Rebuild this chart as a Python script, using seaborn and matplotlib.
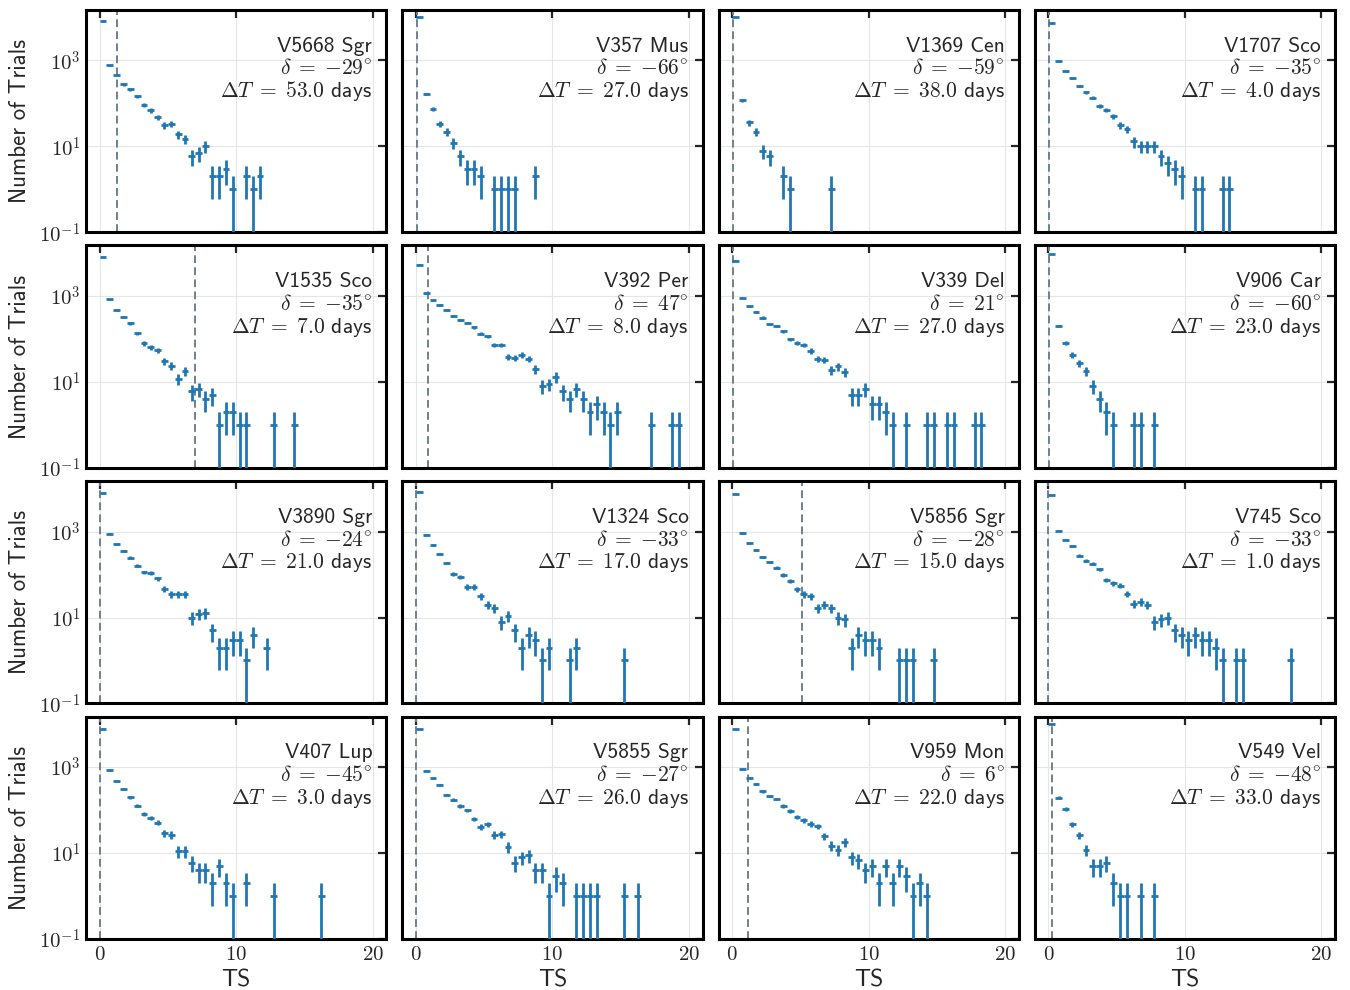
import numpy as np
import pandas as pd
import matplotlib
matplotlib.use("Agg")
import matplotlib.pyplot as plt
from matplotlib.ticker import FuncFormatter, NullLocator, FixedLocator
import seaborn as sns

# ---------------- data ----------------
names = ["V5668 Sgr", "V357 Mus", "V1369 Cen", "V1707 Sco",
         "V1535 Sco", "V392 Per", "V339 Del", "V906 Car",
         "V3890 Sgr", "V1324 Sco", "V5856 Sgr", "V745 Sco",
         "V407 Lup", "V5855 Sgr", "V959 Mon", "V549 Vel"]
declinations = [-29, -66, -59, -35, -35, 47, 21, -60,
                -24, -33, -28, -33, -45, -27, 6, -48]
delta_t_days = [53.0, 27.0, 38.0, 4.0, 7.0, 8.0, 27.0, 23.0,
                21.0, 17.0, 15.0, 1.0, 3.0, 26.0, 22.0, 33.0]
ts_observed = [1.3, 0.05, 0.05, 0.05, 6.95, 0.9, 0.05, 0.05,
               0.0, 0.0, 5.15, 0.0, 0.0, 0.0, 1.15, 0.25]

bin_width = 0.5  # TS histogram bins starting at 0

counts_V5668_Sgr = [8500, 765, 470, 277, 213, 146, 91, 69, 48, 31, 34, 19, 15, 6, 7, 10,
                    2, 2, 3, 1, 0, 2, 1, 2]
counts_V357_Mus = [10300, 166, 76, 34, 22, 12, 6, 3, 3, 2, 0, 1, 1, 1, 1, 0, 0, 2]
counts_V1369_Cen = [10300, 117, 36, 22, 8, 6, 0, 2, 1, 0, 0, 0, 0, 0, 1]
counts_V1707_Sco = [7600, 950, 555, 395, 258, 181, 135, 87, 71, 51, 31, 25, 13, 10, 10, 10,
                    6, 4, 3, 2, 0, 1, 1, 0, 0, 1, 1]
counts_V1535_Sco = [8100, 835, 465, 318, 230, 135, 79, 64, 54, 31, 24, 12, 18, 6, 7, 4,
                    5, 1, 2, 2, 1, 1, 0, 0, 0, 1, 0, 0, 1]
counts_V392_Per = [5400, 1150, 795, 610, 466, 340, 275, 238, 189, 133, 115, 73, 73, 39, 36, 43,
                   35, 20, 8, 9, 13, 6, 4, 7, 4, 2, 3, 2, 1, 2, 0, 0, 0, 0, 1, 0, 0, 1, 1]
counts_V339_Del = [6650, 915, 577, 427, 316, 222, 200, 150, 98, 82, 74, 53, 35, 33, 19, 23,
                   17, 5, 5, 7, 3, 3, 2, 1, 0, 1, 0, 0, 1, 1, 0, 1, 1, 0, 0, 1, 1]
counts_V906_Car = [9500, 200, 82, 43, 28, 18, 8, 4, 2, 1, 0, 0, 1, 1, 0, 1]
counts_V3890_Sgr = [7950, 885, 517, 355, 249, 159, 113, 109, 81, 47, 35, 35, 35, 10, 12, 13,
                    5, 2, 2, 3, 3, 1, 4, 0, 2]
counts_V1324_Sco = [8500, 840, 490, 302, 187, 104, 90, 52, 52, 31, 20, 17, 8, 11, 5, 2,
                    4, 3, 1, 2, 0, 0, 1, 2, 0, 0, 0, 0, 0, 0, 1]
counts_V5856_Sgr = [7550, 930, 545, 382, 258, 197, 143, 96, 71, 45, 35, 31, 17, 20, 17, 10,
                    9, 2, 4, 3, 3, 2, 0, 0, 1, 1, 1, 0, 0, 1]
counts_V745_Sco = [7100, 1050, 650, 464, 277, 212, 178, 131, 75, 63, 55, 36, 21, 23, 20, 8,
                   9, 10, 5, 4, 3, 4, 3, 3, 2, 1, 0, 1, 1, 0, 0, 0, 0, 0, 0, 1]
counts_V407_Lup = [7900, 840, 466, 310, 198, 127, 80, 66, 51, 29, 27, 11, 11, 6, 4, 4,
                   2, 5, 2, 1, 0, 2, 0, 0, 0, 1, 0, 0, 0, 0, 0, 0, 1]
counts_V5855_Sgr = [7800, 820, 545, 388, 228, 174, 126, 98, 63, 40, 47, 27, 28, 14, 6, 8,
                    9, 4, 4, 1, 3, 2, 0, 1, 1, 1, 1, 0, 0, 0, 1, 0, 1]
counts_V959_Mon = [7550, 900, 555, 410, 271, 215, 182, 124, 96, 69, 59, 48, 42, 25, 15, 12,
                   18, 8, 7, 4, 5, 2, 5, 2, 5, 3, 1, 2, 1]
counts_V549_Vel = [10000, 196, 105, 47, 26, 12, 5, 5, 6, 2, 1, 1, 0, 1, 0, 1]

all_counts = [counts_V5668_Sgr, counts_V357_Mus, counts_V1369_Cen, counts_V1707_Sco,
              counts_V1535_Sco, counts_V392_Per, counts_V339_Del, counts_V906_Car,
              counts_V3890_Sgr, counts_V1324_Sco, counts_V5856_Sgr, counts_V745_Sco,
              counts_V407_Lup, counts_V5855_Sgr, counts_V959_Mon, counts_V549_Vel]

# ---------------- style ----------------
sns.set_theme(style="white")
plt.rcParams["font.family"] = ["cmss10", "DejaVu Sans"]
plt.rcParams["mathtext.fontset"] = "cm"
plt.rcParams["axes.unicode_minus"] = False
plt.rcParams["axes.formatter.use_mathtext"] = True

blue = "#1f77b4"
txt_size = 15.5

fig, axes = plt.subplots(4, 4, figsize=(13.5, 9.9), dpi=100, sharex=True, sharey=True)
fig.subplots_adjust(left=0.0637, right=0.989, top=0.990, bottom=0.0515,
                    wspace=0.053, hspace=0.059)

for i, ax in enumerate(axes.flat):
    c = np.asarray(all_counts[i], dtype=float)
    centers = np.arange(len(c)) * bin_width + bin_width / 2
    df = pd.DataFrame({"TS": centers, "N": c})
    df = df[df["N"] > 0]
    ax.errorbar(df["TS"], df["N"], xerr=bin_width / 2, yerr=np.sqrt(df["N"]),
                fmt="none", ecolor=blue, elinewidth=2.0, capsize=0, zorder=3)
    ax.axvline(ts_observed[i], color="#6f808e", ls=(0, (4, 2.2)), lw=1.4, zorder=2)

    ax.set_yscale("log")
    ax.set_xlim(-1, 21)
    ax.set_ylim(0.1, 1.5e4)
    ax.yaxis.set_major_locator(FixedLocator([0.1, 10, 1000]))
    ax.yaxis.set_minor_locator(NullLocator())
    ax.yaxis.set_major_formatter(FuncFormatter(lambda v, p: r"$10^{%d}$" % round(np.log10(v))))
    ax.xaxis.set_major_locator(FixedLocator([0, 10, 20]))
    ax.xaxis.set_major_formatter(FuncFormatter(lambda v, p: r"$%d$" % round(v)))
    ax.grid(True, color="0.9", lw=0.8)
    ax.set_axisbelow(True)
    ax.tick_params(direction="in", top=True, right=True, length=6, width=1.6,
                   labelsize=15, pad=4)
    for s in ax.spines.values():
        s.set_linewidth(2.2)
        s.set_color("black")

    dec = declinations[i]
    sign = "{-}" if dec < 0 else ""
    dec_str = r"$\delta\;=\;%s%d^{\circ}$" % (sign, abs(dec))
    dt_str = r"$\Delta T\;=\;%.1f$ days" % delta_t_days[i]
    ax.text(0.953, 0.812, names[i], transform=ax.transAxes, ha="right", va="baseline", fontsize=txt_size)
    ax.text(0.953, 0.710, dec_str, transform=ax.transAxes, ha="right", va="baseline", fontsize=txt_size)
    ax.text(0.953, 0.608, dt_str, transform=ax.transAxes, ha="right", va="baseline", fontsize=txt_size)

    if i % 4 == 0:
        ax.set_ylabel("Number of Trials", fontsize=16.5, labelpad=6)
    if i >= 12:
        ax.set_xlabel("TS", fontsize=17, labelpad=4)

fig.savefig("out.png", dpi=100)
